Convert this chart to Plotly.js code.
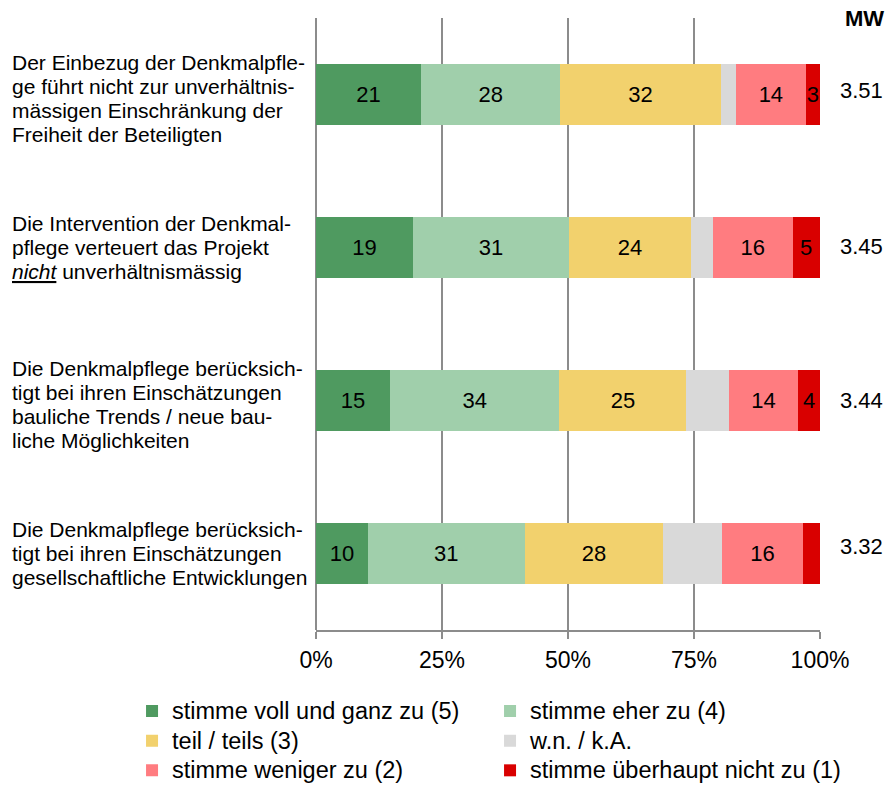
<!DOCTYPE html>
<html>
<head>
<meta charset="utf-8">
<script src="https://cdn.plot.ly/plotly-3.0.1.min.js"></script>
<style>html,body{margin:0;padding:0;background:#fff;}#chart{width:886px;height:789px;}</style>
</head>
<body>
<div id="chart"></div>
<script>
// Statements (top to bottom), one entry per printed line
var statements = [
  ["Der Einbezug der Denkmalpfle-", "ge führt nicht zur unverhältnis-", "mässigen Einschränkung der", "Freiheit der Beteiligten"],
  ["Die Intervention der Denkmal-", "pflege verteuert das Projekt", "<i><u>nicht</u></i> unverhältnismässig"],
  ["Die Denkmalpflege berücksich-", "tigt bei ihren Einschätzungen", "bauliche Trends / neue bau-", "liche Möglichkeiten"],
  ["Die Denkmalpflege berücksich-", "tigt bei ihren Einschätzungen", "gesellschaftliche Entwicklungen"]
];
var categories = ["S1", "S2", "S3", "S4"];

// Series names
var seriesNames = [
  "stimme voll und ganz zu (5)",
  "stimme eher zu (4)",
  "teil / teils (3)",
  "w.n. / k.A.",
  "stimme weniger zu (2)",
  "stimme überhaupt nicht zu (1)"
];

// Percent shares per statement
var voll     = [20.8, 19.2, 14.7, 10.3];
var eher     = [27.7, 31.0, 33.6, 31.1];
var teils    = [31.8, 24.2, 25.2, 27.5];
var wn       = [3.0, 4.3, 8.4, 11.6];
var weniger  = [13.9, 15.9, 13.8, 16.2];
var nicht    = [2.8, 5.3, 4.3, 3.3];

// Printed segment labels
var vollLabels    = ["21", "19", "15", "10"];
var eherLabels    = ["28", "31", "34", "31"];
var teilsLabels   = ["32", "24", "25", "28"];
var wnLabels      = ["", "", "", ""];
var wenigerLabels = ["14", "16", "14", "16"];
var nichtLabels   = ["3", "5", "4", ""];

// Mean values (MW)
var mw = ["3.51", "3.45", "3.44", "3.32"];

// Axis tick labels
var tickVals = [0, 25, 50, 75, 100];
var tickText = ["0%", "25%", "50%", "75%", "100%"];

var colors = ["#4F9A60", "#A0CFAB", "#F2D16D", "#D9D9D9", "#FF7C80", "#D90000"];
var seriesValues = [voll, eher, teils, wn, weniger, nicht];
var seriesLabels = [vollLabels, eherLabels, teilsLabels, wnLabels, wenigerLabels, nichtLabels];

var FONT = "Liberation Sans, Arial, sans-serif";

var traces = seriesValues.map(function (vals, i) {
  return {
    type: "bar",
    orientation: "h",
    name: '<span style="font-size:23.5px">' + seriesNames[i] + '</span>',
    y: categories,
    x: vals,
    text: seriesLabels[i],
    textposition: "inside",
    insidetextanchor: "middle",
    textangle: 0,
    constraintext: "none",
    textfont: {family: FONT, size: 22, color: "#000"},
    marker: {color: colors[i], line: {width: 0}},
    hoverinfo: "skip"
  };
});

var LINE_H = 24;
var mwShift = [4, 1, 0, 7];
var annotations = [];
statements.forEach(function (lines, i) {
  var n = lines.length;
  var extra = n === 4 ? -4 : 0;
  lines.forEach(function (ln, j) {
    annotations.push({
      xref: "paper", yref: "y",
      x: -0.607, y: categories[i],
      xanchor: "left", yanchor: "middle",
      yshift: -(j - (n - 1) / 2) * LINE_H + extra,
      align: "left",
      text: ln, showarrow: false,
      font: {family: FONT, size: 21, color: "#000"}
    });
  });
  annotations.push({
    xref: "paper", yref: "y",
    x: 1.083, y: categories[i],
    xanchor: "center", yanchor: "middle",
    yshift: mwShift[i],
    text: mw[i], showarrow: false,
    font: {family: FONT, size: 22, color: "#000"}
  });
});
annotations.push({
  xref: "paper", yref: "paper",
  x: 1.088, y: 1.0,
  xanchor: "center", yanchor: "middle",
  text: "<b>MW</b>", showarrow: false,
  font: {family: FONT, size: 22, color: "#000"}
});

var layout = {
  width: 886, height: 789,
  margin: {l: 316, r: 66, t: 18, b: 159, pad: 0, autoexpand: false},
  paper_bgcolor: "#fff", plot_bgcolor: "#fff",
  barmode: "stack",
  bargap: 0.6,
  showlegend: true,
  font: {family: FONT, size: 18, color: "#000"},
  xaxis: {
    range: [0, 100],
    tickmode: "array",
    tickvals: tickVals,
    ticktext: tickText,
    showgrid: true, gridcolor: "#8C8C8C", gridwidth: 1.5,
    zeroline: true, zerolinecolor: "#8C8C8C", zerolinewidth: 1.5,
    showline: true, linecolor: "#8C8C8C", linewidth: 1.5,
    ticks: "outside", ticklen: 7, tickcolor: "#8C8C8C", tickwidth: 1.5,
    ticklabelstandoff: 2,
    tickfont: {family: FONT, size: 23, color: "#000"},
    fixedrange: true
  },
  yaxis: {
    autorange: "reversed",
    showticklabels: false,
    showgrid: false, zeroline: false, showline: false,
    ticks: "",
    fixedrange: true
  },
  legend: {
    orientation: "h",
    x: -0.365, xanchor: "left",
    y: -0.1, yanchor: "top",
    entrywidth: 313,
    traceorder: "normal",
    font: {family: FONT, size: 20.5, color: "#000"},
    bgcolor: "rgba(0,0,0,0)"
  },
  annotations: annotations
};

Plotly.newPlot("chart", traces, layout, {displayModeBar: false, staticPlot: true});
</script>
</body>
</html>
